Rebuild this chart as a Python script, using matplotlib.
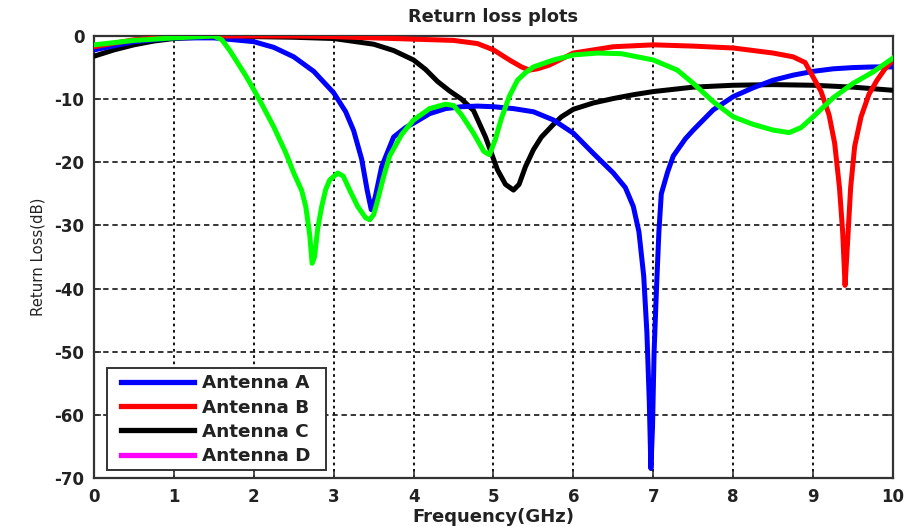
import matplotlib
matplotlib.use("Agg")
import matplotlib.pyplot as plt
from matplotlib.lines import Line2D
from matplotlib.patches import Rectangle

# ---- data ----
freq_a = [0, 0.5, 1.0, 1.5, 2.0, 2.25, 2.5, 2.75, 3.0, 3.15, 3.25, 3.35, 3.42, 3.47, 3.52, 3.6, 3.75, 3.9, 4.0, 4.2, 4.4,
          4.6, 4.8, 5.0, 5.25, 5.5, 5.75, 6.0, 6.25, 6.5, 6.65, 6.75, 6.82, 6.88, 6.92, 6.95, 6.97, 6.99, 7.01, 7.04,
          7.07, 7.1, 7.18, 7.25, 7.4, 7.5, 7.75, 8.0, 8.25, 8.5, 8.75, 9.0, 9.25, 9.5, 9.75, 10.0]
loss_a = [-2.2, -0.9, -0.3, -0.3, -0.9, -1.8, -3.3, -5.6, -9.0, -12.0, -15.0, -19.5, -24.5, -27.5, -25.5, -20.7, -16.0, -14.5, -13.8, -12.3, -11.5,
          -11.2, -11.1, -11.2, -11.5, -12.0, -13.3, -15.4, -18.6, -21.7, -24.0, -27.0, -31.0, -38.0, -47.0, -58.0, -68.5, -62.0, -50.0, -40.0,
          -31.0, -25.0, -21.5, -19.0, -16.3, -14.9, -11.7, -9.6, -8.2, -7.0, -6.2, -5.6, -5.2, -5.0, -4.9, -4.9]

freq_b = [0, 0.5, 1.0, 1.5, 2.0, 2.5, 3.0, 3.5, 4.0, 4.5, 4.8, 5.0, 5.2, 5.35, 5.45, 5.55, 5.7, 6.0, 6.5, 7.0, 7.5, 8.0,
          8.5, 8.75, 8.9, 9.0, 9.1, 9.2, 9.27, 9.33, 9.37, 9.4, 9.43, 9.47, 9.52, 9.6, 9.7, 9.8, 9.9, 10.0]
loss_b = [-1.7, -0.6, -0.1, 0.0, 0.0, 0.0, -0.1, -0.3, -0.5, -0.7, -1.2, -2.2, -3.8, -4.9, -5.4, -5.2, -4.6, -2.7, -1.7, -1.4, -1.6, -1.9,
          -2.7, -3.3, -4.2, -6.5, -8.8, -12.5, -17.0, -24.0, -31.0, -39.5, -33.0, -24.0, -17.5, -12.8, -9.2, -7.0, -5.2, -3.8]

freq_c = [0, 0.25, 0.5, 0.75, 1.0, 1.5, 2.0, 2.5, 3.0, 3.5, 3.75, 4.0, 4.15, 4.3, 4.45, 4.6, 4.75, 4.9, 5.05, 5.15, 5.25,
          5.32, 5.4, 5.5, 5.6, 5.75, 5.85, 6.0, 6.25, 6.5, 6.75, 7.0, 7.5, 8.0, 8.5, 9.0, 9.5, 10.0]
loss_c = [-3.2, -2.2, -1.4, -0.8, -0.4, -0.1, -0.1, -0.2, -0.4, -1.3, -2.3, -3.8, -5.3, -7.2, -8.7, -10.0, -11.8, -16.0, -21.2, -23.5, -24.4,
          -23.5, -20.7, -18.0, -16.0, -14.0, -12.8, -11.6, -10.6, -9.9, -9.3, -8.8, -8.1, -7.8, -7.7, -7.8, -8.1, -8.6]

freq_d = [0, 0.5, 1.0, 1.5, 1.6, 1.7, 1.8, 1.9, 2.0, 2.1, 2.25, 2.4, 2.5, 2.6, 2.65, 2.7, 2.73, 2.76, 2.8, 2.85, 2.9, 2.95,
          3.05, 3.12, 3.2, 3.3, 3.4, 3.45, 3.5, 3.55, 3.62, 3.7, 3.85, 4.0, 4.2, 4.4, 4.5, 4.6, 4.75, 4.88, 4.95, 5.02,
          5.1, 5.2, 5.3, 5.4, 5.5, 5.75, 6.0, 6.3, 6.6, 7.0, 7.3, 7.5, 7.75, 8.0, 8.25, 8.5, 8.7, 8.85, 9.0, 9.25, 9.5, 9.75, 10.0]
loss_d = [-1.4, -0.7, -0.3, 0.0, -0.6, -2.3, -4.3, -6.3, -8.5, -10.8, -14.4, -18.5, -21.7, -24.5, -27.0, -31.5, -36.0, -35.0, -30.5, -27.0, -24.3, -22.8,
          -21.7, -22.2, -24.4, -27.0, -28.8, -29.1, -28.3, -26.0, -22.5, -19.0, -15.6, -13.3, -11.5, -10.8, -11.0, -12.5, -15.4, -18.3, -18.8, -16.5,
          -13.0, -9.5, -7.0, -5.8, -4.9, -3.8, -3.0, -2.7, -2.8, -3.8, -5.4, -7.5, -10.4, -12.8, -14.0, -14.9, -15.3, -14.5, -12.8, -9.8, -7.5, -5.7, -3.5]

series_labels = ["Antenna A", "Antenna B", "Antenna C", "Antenna D"]
legend_colors = ["#0000ff", "#ff0000", "#000000", "#ff00ff"]
line_colors = ["#0000ff", "#ff0000", "#000000", "#00ff00"]

x_ticks = list(range(0, 11))
y_ticks = [0, -10, -20, -30, -40, -50, -60, -70]

plt.rcParams['font.family'] = ['DejaVu Sans']
TXT = '#222222'

fig = plt.figure(figsize=(9.06, 5.27), dpi=100)
ax = fig.add_axes([94 / 906, 1 - 478 / 527, (893 - 94) / 906, (478 - 36) / 527])

lw = 3.6
order = [(freq_c, loss_c, 2), (freq_a, loss_a, 0), (freq_b, loss_b, 1), (freq_d, loss_d, 3)]
for fx, fy, i in order:
    ax.plot(fx, fy, color=line_colors[i], lw=lw, solid_joinstyle='round', zorder=3)

ax.set_xlim(0, 10)
ax.set_ylim(-70, 0)
ax.set_xticks(x_ticks)
ax.set_yticks(y_ticks)
ax.set_xticklabels([str(t) for t in x_ticks], fontsize=12, fontweight='bold', color=TXT)
ax.set_yticklabels([str(t) for t in y_ticks], fontsize=12, fontweight='bold', color=TXT)
ax.tick_params(direction='in', top=True, right=True, length=5, width=1.2, color='#333333')
ax.tick_params(axis='x', pad=7)
ax.tick_params(axis='y', pad=7)

for xv in x_ticks[1:-1]:
    ax.axvline(xv, color='black', lw=1.3, ls=(0, (1.5, 2.0)), zorder=1)
for yv in y_ticks[1:-1]:
    ax.axhline(yv, color='black', lw=1.1, ls=(0, (3.5, 2.5)), zorder=1)

for s in ax.spines.values():
    s.set_linewidth(1.6)
    s.set_color('#333333')

ax.set_title("Return loss plots", fontsize=12.8, fontweight='bold', color=TXT, pad=10)
ax.set_xlabel("Frequency(GHz)", fontsize=13, fontweight='bold', color=TXT, labelpad=1.5)
ax.set_ylabel("Return Loss(dB)", fontsize=10.7, color=TXT, labelpad=6)

# legend frame
frame = Rectangle((0.0163, 0.018), 0.2740, 0.231, transform=ax.transAxes,
                  facecolor='white', edgecolor='#333333', lw=1.4, zorder=5)
ax.add_patch(frame)

handles = [Line2D([0], [0], color=c, lw=3.8) for c in legend_colors]
leg = ax.legend(handles, series_labels, loc='upper left', bbox_to_anchor=(0.0334, 0.2345),
                prop={'family': 'DejaVu Sans', 'size': 13.2, 'weight': 'bold'},
                frameon=False, handlelength=4.0, handletextpad=0.42, borderpad=0.0,
                labelspacing=0.34, borderaxespad=0.0)
for t in leg.get_texts():
    t.set_color(TXT)
leg.set_zorder(6)

fig.savefig("out.png", dpi=100)
